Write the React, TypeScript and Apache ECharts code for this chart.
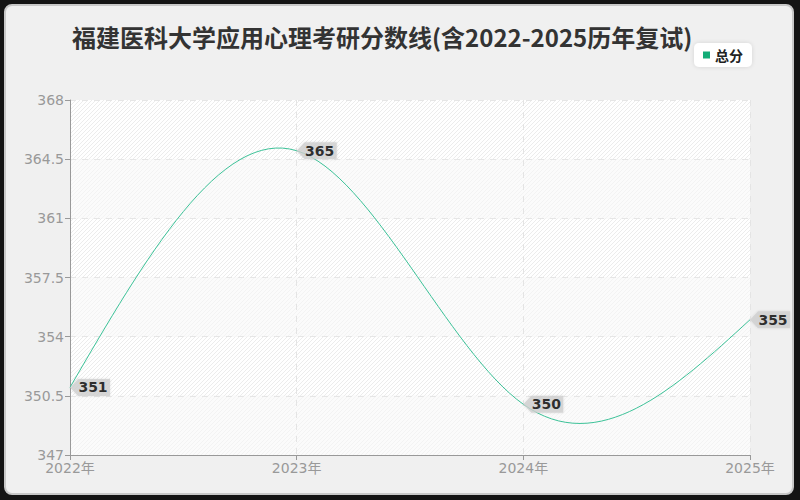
import { useEffect, useRef } from "react";
import * as echarts from "echarts";

const years = ["2022年", "2023年", "2024年", "2025年"];
const scores = [351, 365, 350, 355];
const yTicks = { min: 347, max: 368, interval: 3.5 };

const FONT = "'Noto Sans CJK SC', 'Noto Sans', sans-serif";
const AXIS_FONT = "'DejaVu Sans', 'Noto Sans CJK SC', sans-serif";

// 斜线底纹
const makeHatch = (bg: string, line: string) => {
  const s = 4;
  const c = document.createElement("canvas");
  c.width = s;
  c.height = s;
  const ctx = c.getContext("2d")!;
  ctx.fillStyle = bg;
  ctx.fillRect(0, 0, s, s);
  ctx.strokeStyle = line;
  ctx.lineWidth = 1;
  ctx.beginPath();
  ctx.moveTo(0, s);
  ctx.lineTo(s, 0);
  ctx.moveTo(-1, 1);
  ctx.lineTo(1, -1);
  ctx.moveTo(s - 1, s + 1);
  ctx.lineTo(s + 1, s - 1);
  ctx.stroke();
  return c;
};

// 自然三次样条的各点斜率 (等距 h = 1)
const splineSlopes = (y: number[]) => {
  const n = y.length;
  const m = new Array(n).fill(0);
  if (n > 2) {
    const a: number[] = [];
    const d: number[] = [];
    for (let i = 1; i < n - 1; i++) {
      a.push(4);
      d.push(6 * (y[i - 1] - 2 * y[i] + y[i + 1]));
    }
    for (let i = 1; i < a.length; i++) {
      const w = 1 / a[i - 1];
      a[i] -= w;
      d[i] -= w * d[i - 1];
    }
    for (let i = a.length - 1; i >= 0; i--) {
      const next = i + 1 < a.length ? m[i + 2] : 0;
      m[i + 1] = (d[i] - next) / a[i];
    }
  }
  const slopes: number[] = [];
  for (let i = 0; i < n; i++) {
    if (i < n - 1) slopes.push(y[i + 1] - y[i] - (2 * m[i] + m[i + 1]) / 6);
    else slopes.push(y[i] - y[i - 1] + (m[i - 1] + 2 * m[i]) / 6);
  }
  return slopes;
};

const slopes = splineSlopes(scores);

const App = () => {
  const chartRef = useRef(null);

  useEffect(() => {
    document.body.style.margin = "0";
    document.body.style.background = "#141414";
    const chart = echarts.init(chartRef.current, null, { renderer: "svg" });

    const option: any = {
      animation: false,
      backgroundColor: "transparent",
      title: {
        text: "福建医科大学应用心理考研分数线(含2022-2025历年复试)",
        left: 67,
        top: 19,
        textStyle: { fontFamily: FONT, fontSize: 24, fontWeight: "bold", color: "#333" },
      },
      legend: {
        data: [{ name: "总分", icon: "rect" }],
        right: 48,
        top: 43,
        backgroundColor: "#fff",
        borderRadius: 5,
        padding: [5, 9],
        itemWidth: 7,
        itemHeight: 7,
        itemGap: 6,
        shadowColor: "rgba(0,0,0,0.12)",
        shadowBlur: 4,
        textStyle: { fontFamily: FONT, fontSize: 14, fontWeight: "bold", color: "#222" },
      },
      grid: { left: 70, right: 50, top: 100, bottom: 45 },
      xAxis: {
        type: "category",
        boundaryGap: false,
        data: years,
        axisLine: { lineStyle: { color: "#999" } },
        axisTick: { lineStyle: { color: "#999" } },
        axisLabel: { color: "#999", fontSize: 14, fontFamily: AXIS_FONT, margin: 6 },
        splitLine: { show: true, lineStyle: { color: "#e4e4e4", type: [6, 6] } },
      },
      yAxis: {
        type: "value",
        min: yTicks.min,
        max: yTicks.max,
        interval: yTicks.interval,
        axisLine: { show: true, lineStyle: { color: "#999" } },
        axisTick: { show: true, lineStyle: { color: "#999" } },
        axisLabel: { color: "#999", fontSize: 14, fontFamily: AXIS_FONT, margin: 6 },
        splitLine: { lineStyle: { color: "#e6e6e6", type: [6, 6] } },
        splitArea: {
          show: true,
          areaStyle: {
            color: [
              { image: makeHatch("#fbfbfb", "#f3f3f3"), repeat: "repeat" },
              { image: makeHatch("#ffffff", "#ececec"), repeat: "repeat" },
            ],
          },
        },
      },
      series: [
        {
          name: "总分",
          type: "custom",
          data: scores.map((v, i) => [i, v]),
          itemStyle: { color: "#13ad78" },
          renderItem: (params: any, api: any) => {
            const i = params.dataIndex;
            if (i >= scores.length - 1) return null;
            const p0 = api.coord([i, scores[i]]);
            const p1 = api.coord([i + 1, scores[i + 1]]);
            const dx = (p1[0] - p0[0]) / 3;
            const c0 = api.coord([i, scores[i] + slopes[i] / 3]);
            const c1 = api.coord([i + 1, scores[i + 1] - slopes[i + 1] / 3]);
            return {
              type: "bezierCurve",
              shape: {
                x1: p0[0],
                y1: p0[1],
                cpx1: p0[0] + dx,
                cpy1: c0[1],
                cpx2: p1[0] - dx,
                cpy2: c1[1],
                x2: p1[0],
                y2: p1[1],
              },
              style: { stroke: "#3cc298", lineWidth: 1, fill: null },
            };
          },
        },
        {
          name: "label",
          type: "scatter",
          data: scores,
          symbol: "path://M0,8 L8,0 L40,0 L40,16 L8,16 Z",
          symbolSize: [40, 17],
          symbolOffset: [20, 0],
          itemStyle: {
            color: "#d0d0d0",
            shadowColor: "rgba(0,0,0,0.15)",
            shadowBlur: 2,
          },
          label: {
            show: true,
            position: "inside",
            offset: [3, 0],
            color: "#000",
            fontSize: 14,
            fontWeight: "bold",
            fontFamily: "'DejaVu Sans', sans-serif",
            formatter: "{c}",
          },
          z: 5,
          silent: true,
        },
      ],
    };

    chart.setOption(option);

    return () => {
      chart.dispose();
    };
  }, []);

  return (
    <div style={{ position: "relative", width: 800, height: 500, background: "#141414" }}>
      <div
        style={{
          position: "absolute",
          left: 4,
          top: 4,
          width: 786,
          height: 487,
          background: "#f0f0f0",
          border: "2px solid #c8c8c8",
          borderRadius: 8,
        }}
      />
      <div ref={chartRef} style={{ position: "absolute", left: 0, top: 0, width: 800, height: 500 }} />
    </div>
  );
};

export default App;
